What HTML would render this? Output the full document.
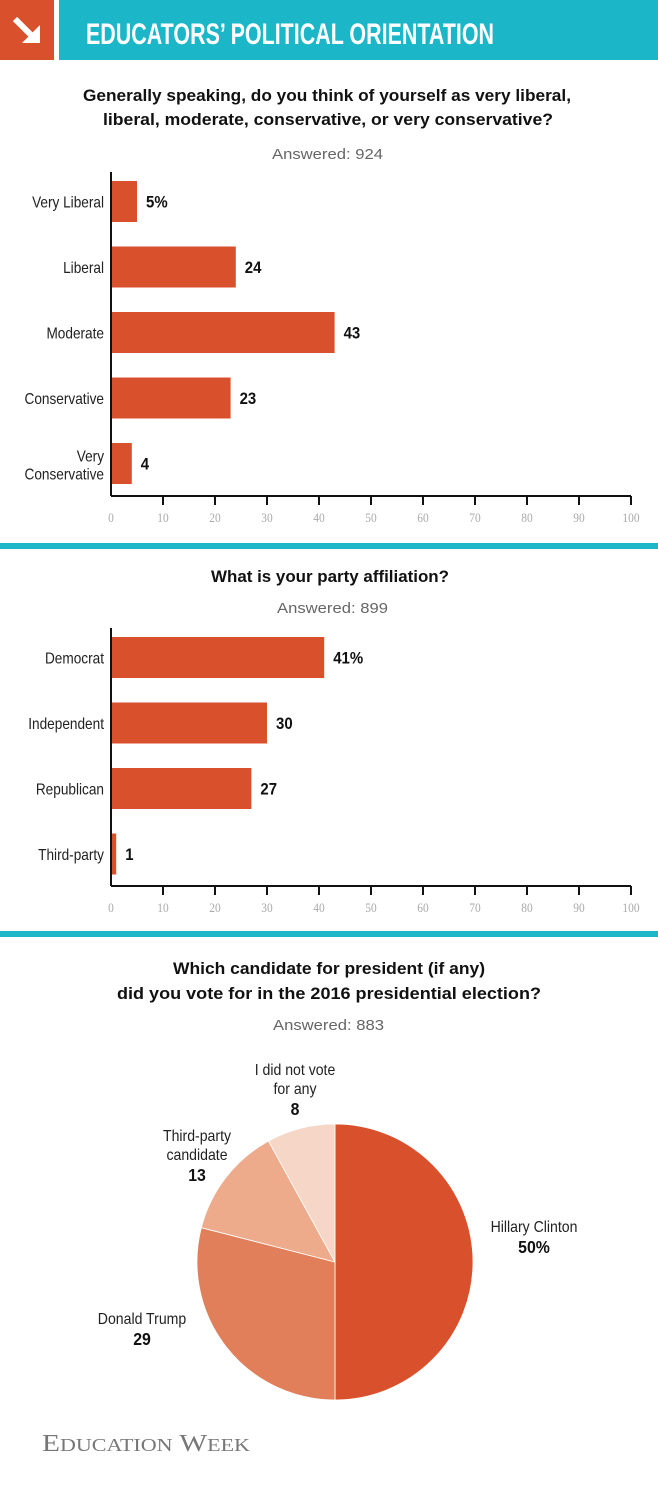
<!DOCTYPE html>
<html><head><meta charset="utf-8">
<style>
body{margin:0;width:658px;height:1490px;background:#fff;overflow:hidden;font-family:"Liberation Sans",sans-serif;}
svg text{font-family:"Liberation Sans",sans-serif;}
svg text.serif{font-family:"Liberation Serif",serif;}
</style></head>
<body>
<svg id="c" width="658" height="1490" viewBox="0 0 658 1490" xmlns="http://www.w3.org/2000/svg">
<rect x="0" y="0" width="54" height="60" fill="#d9512c"/>
<g>
<line x1="15" y1="19" x2="33" y2="37" stroke="#fff" stroke-width="6"/>
<polygon points="22,43 40,43 40,25" fill="#fff"/>
</g>
<rect x="59" y="0" width="599" height="60" fill="#1bb6c8"/>
<text x="86" y="44" font-size="30" fill="#fff" font-weight="bold" textLength="408" lengthAdjust="spacingAndGlyphs">EDUCATORS’ POLITICAL ORIENTATION</text>
<text x="83" y="101" font-size="17" font-weight="bold" fill="#111" textLength="488" lengthAdjust="spacingAndGlyphs">Generally speaking, do you think of yourself as very liberal,</text>
<text x="103" y="125" font-size="17" font-weight="bold" fill="#111" textLength="450" lengthAdjust="spacingAndGlyphs">liberal, moderate, conservative, or very conservative?</text>
<text x="272" y="159" font-size="15" fill="#666" textLength="111" lengthAdjust="spacingAndGlyphs">Answered: 924</text>
<rect x="0" y="543" width="658" height="6" fill="#1bb6c8"/>
<text x="211" y="582" font-size="17" font-weight="bold" fill="#111" textLength="238" lengthAdjust="spacingAndGlyphs">What is your party affiliation?</text>
<text x="277" y="613" font-size="15" fill="#666" textLength="111" lengthAdjust="spacingAndGlyphs">Answered: 899</text>
<rect x="0" y="931" width="658" height="6" fill="#1bb6c8"/>
<text x="173" y="974" font-size="17" font-weight="bold" fill="#111" textLength="312" lengthAdjust="spacingAndGlyphs">Which candidate for president (if any)</text>
<text x="117" y="999" font-size="17" font-weight="bold" fill="#111" textLength="424" lengthAdjust="spacingAndGlyphs">did you vote for in the 2016 presidential election?</text>
<text x="273" y="1030" font-size="15" fill="#666" textLength="111" lengthAdjust="spacingAndGlyphs">Answered: 883</text>
<text class="serif" x="42" y="1451" font-size="24" fill="#777" textLength="208" lengthAdjust="spacingAndGlyphs">E<tspan font-size="18">DUCATION</tspan> W<tspan font-size="18">EEK</tspan></text>
</svg>
<script>
const NS="http://www.w3.org/2000/svg";
const svg=document.getElementById('c');
const c1Cats=["Very Liberal","Liberal","Moderate","Conservative","Very Conservative"];
const c1Vals=[5,24,43,23,4];
const c1Labels=["5%","24","43","23","4"];
const c2Cats=["Democrat","Independent","Republican","Third-party"];
const c2Vals=[41,30,27,1];
const c2Labels=["41%","30","27","1"];
const xTicks=[0,10,20,30,40,50,60,70,80,90,100];
const pieCats=["Hillary Clinton","Donald Trump","Third-party candidate","I did not vote for any"];
const pieVals=[50,29,13,8];
const pieLabels=["50%","29","13","8"];
const pieColors=["#d9512c","#e07f5a","#edab8c","#f6d6c6"];

function mk(tag,attrs,parent){const e=document.createElementNS(NS,tag);for(const k in attrs)e.setAttribute(k,attrs[k]);(parent||svg).appendChild(e);return e;}
const SX=0.88;
function cond(parent,x){return mk('g',{transform:`translate(${x},0) scale(${SX},1)`},parent);}
const x0=111,x1=631;
const xs=v=>x0+(x1-x0)*v/100;

function barChart(pfx,cats,vals,labels,top,pitch,axisY){
  const g=mk('g',{});
  
  
  const bh=41;
  cats.forEach((c,i)=>{
    const y=top+i*pitch;
    const r=mk('rect',{x:x0,y:y,width:xs(vals[i])-x0,height:bh,fill:'#d9512c'},g);
    
    
    const vg=cond(g,xs(vals[i])+9);
    const v=mk('text',{x:0,y:y+bh/2+6,'font-size':17,'font-weight':'bold',fill:'#111'},vg);
    v.textContent=labels[i];
    
    
    const lg=cond(g,104);
    const l=mk('text',{x:0,'text-anchor':'end','font-size':15.5,fill:'#222'},lg);
    
    
    if(c==="Very Conservative"){
      const t1=mk('tspan',{x:0,y:y+bh/2-2},l);t1.textContent="Very";
      const t2=mk('tspan',{x:0,y:y+bh/2+16},l);t2.textContent="Conservative";
    } else {l.setAttribute('y',y+bh/2+6);l.textContent=c;}
  });
  const ya=mk('line',{x1:x0,x2:x0,y1:top-9,y2:axisY,stroke:'#111','stroke-width':2},g);
  
  
  const xa=mk('line',{x1:x0,x2:x1,y1:axisY,y2:axisY,stroke:'#111','stroke-width':2},g);
  
  
  xTicks.forEach(t=>{
    if(t>0){const tk=mk('line',{x1:xs(t),x2:xs(t),y1:axisY,y2:axisY+9,stroke:'#111','stroke-width':2},g);
    
    }
    const tg=cond(g,xs(t));
    const tl=mk('text',{x:0,y:axisY+26,'text-anchor':'middle','font-size':13,fill:'#aaa','class':'serif'},tg);
    tl.textContent=t;
    
    
  });
}
barChart('chart1',c1Cats,c1Vals,c1Labels,181,65.5,496);
barChart('chart2',c2Cats,c2Vals,c2Labels,637,65.5,886);

const cx=335,cy=1262,R=138;
const total=pieVals.reduce((a,b)=>a+b,0);
let acc=0;
const pg=mk('g',{});


pieVals.forEach((v,i)=>{
  const a0=acc/total*2*Math.PI;acc+=v;const a1=acc/total*2*Math.PI;
  const p=(a)=>[cx+R*Math.sin(a),cy-R*Math.cos(a)];
  const [sx,sy]=p(a0),[ex,ey]=p(a1);
  const large=(a1-a0)>Math.PI?1:0;
  const path=mk('path',{d:`M${cx},${cy} L${sx},${sy} A${R},${R} 0 ${large} 1 ${ex},${ey} Z`,fill:pieColors[i],stroke:'#fff','stroke-width':0.8},pg);
  
  
});
const pieLabelLines=[["Hillary Clinton"],["Donald Trump"],["Third-party","candidate"],["I did not vote","for any"]];
const pieLabelPos=[[534,1232],[142,1324],[197,1141],[295,1075]];
pieLabelLines.forEach((lines,i)=>{
  const [lx,ly]=pieLabelPos[i];
  const lg=cond(pg,lx);
  const t=mk('text',{'text-anchor':'middle','font-size':16,fill:'#222'},lg);
  
  
  lines.forEach((ln,j)=>{const s=mk('tspan',{x:0,y:ly+j*19},t);s.textContent=ln;});
  const s=mk('tspan',{x:0,y:ly+lines.length*19+2,'font-size':18,'font-weight':'bold',fill:'#111'},t);
  s.textContent=pieLabels[i];
});
</script>
</body></html>
